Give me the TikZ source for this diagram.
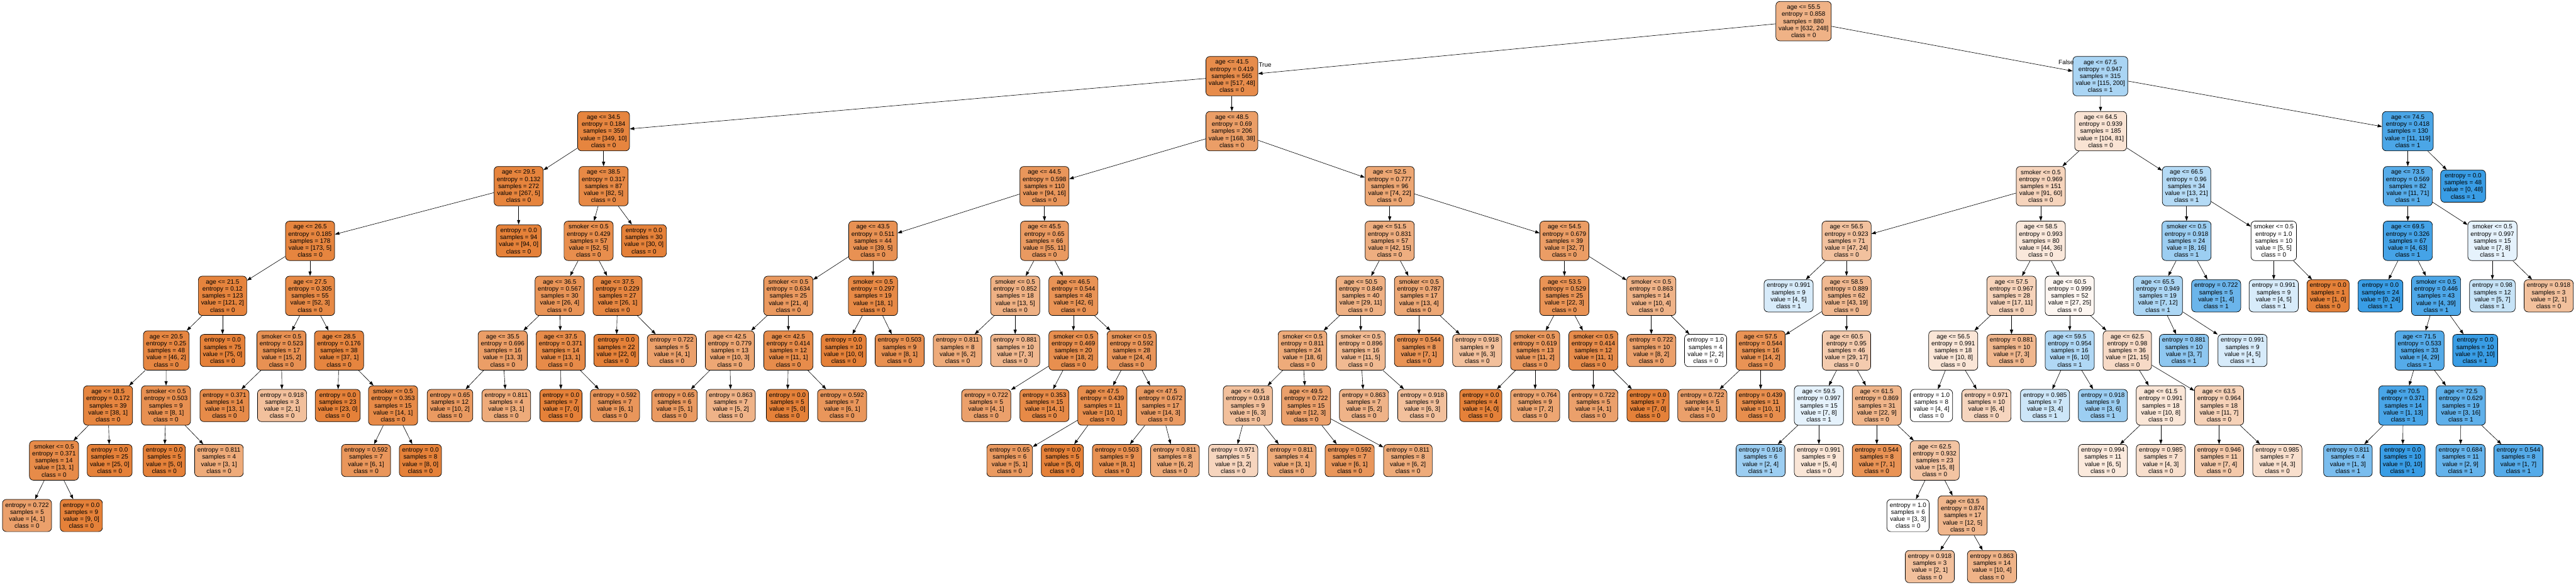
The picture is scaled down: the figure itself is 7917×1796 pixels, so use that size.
\documentclass[tikz,border=0pt]{standalone}
\usepackage{fontspec}
\setmainfont{Liberation Sans}
\usetikzlibrary{arrows.meta}
\definecolor{co}{RGB}{229,129,57}
\definecolor{cb}{RGB}{57,157,229}
\newcommand\TRcol[2]{%
  \pgfmathtruncatemacro\TRalp{round(100*(1-min(#1,#2)/max(#1,#2)))}%
  \ifnum#1<#2\relax
    \colorlet{nfill}{cb!\TRalp!white}\def\TRcls{1}%
  \else
    \colorlet{nfill}{co!\TRalp!white}\def\TRcls{0}%
  \fi}
\newcommand\TRs[7]{\TRcol{#6}{#7}\pgfmathtruncatemacro\TRsmp{#6+#7}%
  \node[splitbox] (#1) at (#2,#3) {#4\\entropy = #5\\samples = \TRsmp\\value = [#6, #7]\\class = \TRcls};}
\newcommand\TRl[6]{\TRcol{#5}{#6}\pgfmathtruncatemacro\TRsmp{#5+#6}%
  \node[leafbox] (#1) at (#2,#3) {entropy = #4\\samples = \TRsmp\\value = [#5, #6]\\class = \TRcls};}
\begin{document}
\begin{tikzpicture}[x=0.5pt,y=-0.5pt,
  box/.style={draw=black, line width=0.7pt, rounded corners=6pt, fill=nfill, align=center,
    font=\fontsize{9.6}{10.85}\selectfont, inner xsep=4.25pt, inner ysep=0pt},
  splitbox/.style={box, minimum height=60.5pt},
  leafbox/.style={box, minimum height=49.5pt},
  edge/.style={draw=black, line width=0.6pt, -{Triangle[length=6.8pt,width=4.8pt]}},
  lbl/.style={font=\fontsize{9.6}{10.85}\selectfont, inner sep=0pt}]
\useasboundingbox (0,0) rectangle (7917,1796);
% level 0-3
\TRs{n0}{5543}{65}{age <= 55.5}{0.858}{632}{248}
\TRs{n1}{3786}{234}{age <= 41.5}{0.419}{517}{48}
\TRs{n2}{6455}{234}{age <= 67.5}{0.947}{115}{200}
\TRs{n3}{1855}{403}{age <= 34.5}{0.184}{349}{10}
\TRs{n4}{3786}{403}{age <= 48.5}{0.69}{168}{38}
\TRs{n5}{6456}{403}{age <= 64.5}{0.939}{104}{81}
\TRs{n6}{7400}{403}{age <= 74.5}{0.418}{11}{119}
\TRs{n7}{1594}{572}{age <= 29.5}{0.132}{267}{5}
\TRs{n8}{1855}{572}{age <= 38.5}{0.317}{82}{5}
\TRs{n9}{3210}{572}{age <= 44.5}{0.598}{94}{16}
\TRs{n10}{4271}{572}{age <= 52.5}{0.777}{74}{22}
\TRs{n11}{6272}{572}{smoker <= 0.5}{0.969}{91}{60}
\TRs{n12}{6720}{572}{age <= 66.5}{0.96}{13}{21}
\TRs{n13}{7400}{572}{age <= 73.5}{0.569}{11}{71}
\TRl{n14}{7570}{572}{0.0}{0}{48}
% level 4
\TRs{n15}{953}{740}{age <= 26.5}{0.185}{173}{5}
\TRl{n16}{1594}{740}{0.0}{94}{0}
\TRs{n17}{1809}{740}{smoker <= 0.5}{0.429}{52}{5}
\TRl{n18}{1979}{740}{0.0}{30}{0}
\TRs{n19}{2683}{740}{age <= 43.5}{0.511}{39}{5}
\TRs{n20}{3210}{740}{age <= 45.5}{0.65}{55}{11}
\TRs{n21}{4271}{740}{age <= 51.5}{0.831}{42}{15}
\TRs{n22}{4808}{740}{age <= 54.5}{0.679}{32}{7}
\TRs{n23}{5675}{740}{age <= 56.5}{0.923}{47}{24}
\TRs{n24}{6272}{740}{age <= 58.5}{0.993}{44}{36}
\TRs{n25}{6720}{740}{smoker <= 0.5}{0.918}{8}{16}
\TRs{n26}{6988}{740}{smoker <= 0.5}{1.0}{5}{5}
\TRs{n27}{7400}{740}{age <= 69.5}{0.326}{4}{63}
\TRs{n28}{7660}{740}{smoker <= 0.5}{0.997}{7}{8}
% level 5
\TRs{n29}{684}{909}{age <= 21.5}{0.12}{121}{2}
\TRs{n30}{953}{909}{age <= 27.5}{0.305}{52}{3}
\TRs{n31}{1720}{909}{age <= 36.5}{0.567}{26}{4}
\TRs{n32}{1898}{909}{age <= 37.5}{0.229}{26}{1}
\TRs{n33}{2423}{909}{smoker <= 0.5}{0.634}{21}{4}
\TRs{n34}{2683}{909}{smoker <= 0.5}{0.297}{18}{1}
\TRs{n35}{3120}{909}{smoker <= 0.5}{0.852}{13}{5}
\TRs{n36}{3299}{909}{age <= 46.5}{0.544}{42}{6}
\TRs{n37}{4182}{909}{age <= 50.5}{0.849}{29}{11}
\TRs{n38}{4361}{909}{smoker <= 0.5}{0.787}{13}{4}
\TRs{n39}{4808}{909}{age <= 53.5}{0.529}{22}{3}
\TRs{n40}{5075}{909}{smoker <= 0.5}{0.863}{10}{4}
\TRl{n41}{5497}{909}{0.991}{4}{5}
\TRs{n42}{5675}{909}{age <= 58.5}{0.889}{43}{19}
\TRs{n43}{6182}{909}{age <= 57.5}{0.967}{17}{11}
\TRs{n44}{6361}{909}{age <= 60.5}{0.999}{27}{25}
\TRs{n45}{6632}{909}{age <= 65.5}{0.949}{7}{12}
\TRl{n46}{6811}{909}{0.722}{1}{4}
\TRl{n47}{6988}{909}{0.991}{4}{5}
\TRl{n48}{7155}{909}{0.0}{1}{0}
\TRl{n49}{7316}{909}{0.0}{0}{24}
\TRs{n50}{7487}{909}{smoker <= 0.5}{0.446}{4}{39}
\TRl{n51}{7660}{909}{0.98}{5}{7}
\TRl{n52}{7833}{909}{0.918}{2}{1}
% level 6
\TRs{n53}{511}{1077}{age <= 20.5}{0.25}{46}{2}
\TRl{n54}{684}{1077}{0.0}{75}{0}
\TRs{n55}{865}{1077}{smoker <= 0.5}{0.523}{15}{2}
\TRs{n56}{1042}{1077}{age <= 28.5}{0.176}{37}{1}
\TRs{n57}{1545}{1077}{age <= 35.5}{0.696}{13}{3}
\TRs{n58}{1723}{1077}{age <= 37.5}{0.371}{13}{1}
\TRl{n59}{1894}{1077}{0.0}{22}{0}
\TRl{n60}{2065}{1077}{0.722}{4}{1}
\TRs{n61}{2243}{1077}{age <= 42.5}{0.779}{10}{3}
\TRs{n62}{2423}{1077}{age <= 42.5}{0.414}{11}{1}
\TRl{n63}{2593}{1077}{0.0}{10}{0}
\TRl{n64}{2765}{1077}{0.503}{8}{1}
\TRl{n65}{2943}{1077}{0.811}{6}{2}
\TRl{n66}{3120}{1077}{0.881}{7}{3}
\TRs{n67}{3299}{1077}{smoker <= 0.5}{0.469}{18}{2}
\TRs{n68}{3478}{1077}{smoker <= 0.5}{0.592}{24}{4}
\TRs{n69}{4003}{1077}{smoker <= 0.5}{0.811}{18}{6}
\TRs{n70}{4182}{1077}{smoker <= 0.5}{0.896}{11}{5}
\TRl{n71}{4361}{1077}{0.544}{7}{1}
\TRl{n72}{4540}{1077}{0.918}{6}{3}
\TRs{n73}{4718}{1077}{smoker <= 0.5}{0.619}{11}{2}
\TRs{n74}{4897}{1077}{smoker <= 0.5}{0.414}{11}{1}
\TRl{n75}{5075}{1077}{0.722}{8}{2}
\TRl{n76}{5242}{1077}{1.0}{2}{2}
\TRs{n77}{5411}{1077}{age <= 57.5}{0.544}{14}{2}
\TRs{n78}{5675}{1077}{age <= 60.5}{0.95}{29}{17}
\TRs{n79}{6003}{1077}{age <= 56.5}{0.991}{10}{8}
\TRl{n80}{6182}{1077}{0.881}{7}{3}
\TRs{n81}{6361}{1077}{age <= 59.5}{0.954}{6}{10}
\TRs{n82}{6538}{1077}{age <= 62.5}{0.98}{21}{15}
\TRl{n83}{6712}{1077}{0.881}{3}{7}
\TRl{n84}{6892}{1077}{0.991}{4}{5}
\TRs{n85}{7436}{1077}{age <= 71.5}{0.533}{4}{29}
\TRl{n86}{7607}{1077}{0.0}{0}{10}
% level 7
\TRs{n87}{332}{1246}{age <= 18.5}{0.172}{38}{1}
\TRs{n88}{510}{1246}{smoker <= 0.5}{0.503}{8}{1}
\TRl{n89}{690}{1246}{0.371}{13}{1}
\TRl{n90}{867}{1246}{0.918}{2}{1}
\TRl{n91}{1038}{1246}{0.0}{23}{0}
\TRs{n92}{1208}{1246}{smoker <= 0.5}{0.353}{14}{1}
\TRl{n93}{1383}{1246}{0.65}{10}{2}
\TRl{n94}{1556}{1246}{0.811}{3}{1}
\TRl{n95}{1724}{1246}{0.0}{7}{0}
\TRl{n96}{1890}{1246}{0.592}{6}{1}
\TRl{n97}{2073}{1246}{0.65}{5}{1}
\TRl{n98}{2246}{1246}{0.863}{5}{2}
\TRl{n99}{2420}{1246}{0.0}{5}{0}
\TRl{n100}{2588}{1246}{0.592}{6}{1}
\TRl{n101}{3031}{1246}{0.722}{4}{1}
\TRl{n102}{3210}{1246}{0.353}{14}{1}
\TRs{n103}{3388}{1246}{age <= 47.5}{0.439}{10}{1}
\TRs{n104}{3567}{1246}{age <= 47.5}{0.672}{14}{3}
\TRs{n105}{3835}{1246}{age <= 49.5}{0.918}{6}{3}
\TRs{n106}{4014}{1246}{age <= 49.5}{0.722}{12}{3}
\TRl{n107}{4192}{1246}{0.863}{5}{2}
\TRl{n108}{4371}{1246}{0.918}{6}{3}
\TRl{n109}{4551}{1246}{0.0}{4}{0}
\TRl{n110}{4718}{1246}{0.764}{7}{2}
\TRl{n111}{4897}{1246}{0.722}{4}{1}
\TRl{n112}{5065}{1246}{0.0}{7}{0}
\TRl{n113}{5232}{1246}{0.722}{4}{1}
\TRl{n114}{5411}{1246}{0.439}{10}{1}
\TRs{n115}{5590}{1246}{age <= 59.5}{0.997}{7}{8}
\TRs{n116}{5768}{1246}{age <= 61.5}{0.869}{22}{9}
\TRl{n117}{5936}{1246}{1.0}{4}{4}
\TRl{n118}{6105}{1246}{0.971}{6}{4}
\TRl{n119}{6285}{1246}{0.985}{3}{4}
\TRl{n120}{6463}{1246}{0.918}{3}{6}
\TRs{n121}{6641}{1246}{age <= 61.5}{0.991}{10}{8}
\TRs{n122}{6820}{1246}{age <= 63.5}{0.964}{11}{7}
\TRs{n123}{7386}{1246}{age <= 70.5}{0.371}{1}{13}
\TRs{n124}{7563}{1246}{age <= 72.5}{0.629}{3}{16}
% level 8
\TRs{n125}{166}{1415}{smoker <= 0.5}{0.371}{13}{1}
\TRl{n126}{337}{1415}{0.0}{25}{0}
\TRl{n127}{505}{1415}{0.0}{5}{0}
\TRl{n128}{673}{1415}{0.811}{3}{1}
\TRl{n129}{1125}{1415}{0.592}{6}{1}
\TRl{n130}{1292}{1415}{0.0}{8}{0}
\TRl{n131}{3103}{1415}{0.65}{5}{1}
\TRl{n132}{3265}{1415}{0.0}{5}{0}
\TRl{n133}{3433}{1415}{0.503}{8}{1}
\TRl{n134}{3611}{1415}{0.811}{6}{2}
\TRl{n135}{3790}{1415}{0.971}{3}{2}
\TRl{n136}{3970}{1415}{0.811}{3}{1}
\TRl{n137}{4148}{1415}{0.592}{6}{1}
\TRl{n138}{4327}{1415}{0.811}{6}{2}
\TRl{n139}{5411}{1415}{0.918}{2}{4}
\TRl{n140}{5590}{1415}{0.991}{5}{4}
\TRl{n141}{5768}{1415}{0.544}{7}{1}
\TRs{n142}{5946}{1415}{age <= 62.5}{0.932}{15}{8}
\TRl{n143}{6463}{1415}{0.994}{6}{5}
\TRl{n144}{6641}{1415}{0.985}{4}{3}
\TRl{n145}{6820}{1415}{0.946}{7}{4}
\TRl{n146}{6999}{1415}{0.985}{4}{3}
\TRl{n147}{7216}{1415}{0.811}{1}{3}
\TRl{n148}{7384}{1415}{0.0}{0}{10}
\TRl{n149}{7562}{1415}{0.684}{2}{9}
\TRl{n150}{7740}{1415}{0.544}{1}{7}
% level 9-10
\TRl{n151}{83}{1584}{0.722}{4}{1}
\TRl{n152}{250}{1584}{0.0}{9}{0}
\TRl{n153}{5864}{1584}{1.0}{3}{3}
\TRs{n154}{6032}{1584}{age <= 63.5}{0.874}{12}{5}
\TRl{n155}{5931}{1741}{0.918}{2}{1}
\TRl{n156}{6122}{1741}{0.863}{10}{4}
% edges
\foreach \p/\c in {n0/n1, n0/n2, n1/n3, n1/n4, n2/n5, n2/n6,
  n3/n7, n3/n8, n4/n9, n4/n10, n5/n11, n5/n12, n6/n13, n6/n14,
  n7/n15, n7/n16, n8/n17, n8/n18, n9/n19, n9/n20, n10/n21, n10/n22, n11/n23, n11/n24, n12/n25, n12/n26, n13/n27, n13/n28,
  n15/n29, n15/n30, n17/n31, n17/n32, n19/n33, n19/n34, n20/n35, n20/n36, n21/n37, n21/n38, n22/n39, n22/n40, n23/n41, n23/n42, n24/n43, n24/n44, n25/n45, n25/n46, n26/n47, n26/n48, n27/n49, n27/n50, n28/n51, n28/n52,
  n29/n53, n29/n54, n30/n55, n30/n56, n31/n57, n31/n58, n32/n59, n32/n60, n33/n61, n33/n62, n34/n63, n34/n64, n35/n65, n35/n66, n36/n67, n36/n68, n37/n69, n37/n70, n38/n71, n38/n72, n39/n73, n39/n74, n40/n75, n40/n76, n42/n77, n42/n78, n43/n79, n43/n80, n44/n81, n44/n82, n45/n83, n45/n84, n50/n85, n50/n86,
  n53/n87, n53/n88, n55/n89, n55/n90, n56/n91, n56/n92, n57/n93, n57/n94, n58/n95, n58/n96, n61/n97, n61/n98, n62/n99, n62/n100, n67/n101, n67/n102, n68/n103, n68/n104, n69/n105, n69/n106, n70/n107, n70/n108, n73/n109, n73/n110, n74/n111, n74/n112, n77/n113, n77/n114, n78/n115, n78/n116, n79/n117, n79/n118, n81/n119, n81/n120, n82/n121, n82/n122, n85/n123, n85/n124,
  n87/n125, n87/n126, n88/n127, n88/n128, n92/n129, n92/n130, n103/n131, n103/n132, n104/n133, n104/n134, n105/n135, n105/n136, n106/n137, n106/n138, n115/n139, n115/n140, n116/n141, n116/n142, n121/n143, n121/n144, n122/n145, n122/n146, n123/n147, n123/n148, n124/n149, n124/n150,
  n125/n151, n125/n152, n142/n153, n142/n154, n154/n155, n154/n156}
  \draw[edge] (\p) -- (\c);
\node[lbl] (tlab) at (3888,200) {True};
\node[lbl] (flab) at (6350,191) {False};
\end{tikzpicture}
\end{document}
